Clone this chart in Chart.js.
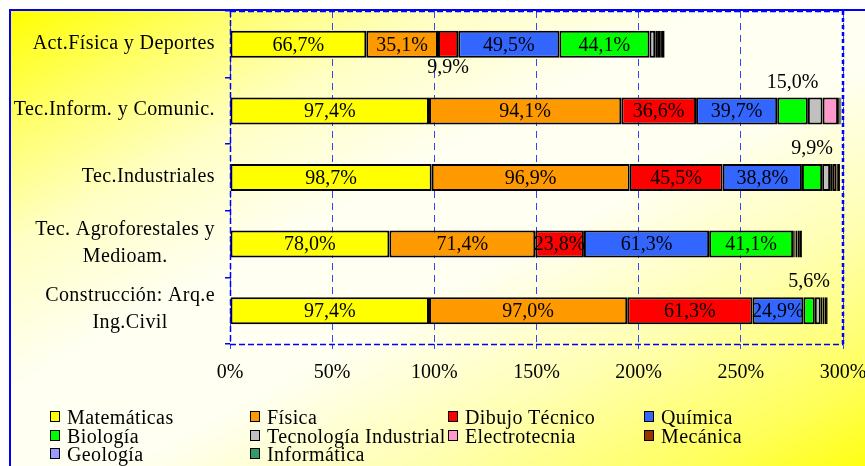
<!DOCTYPE html>
<html>
<head>
<meta charset="utf-8">
<script src="https://cdn.jsdelivr.net/npm/chart.js@4/dist/chart.umd.min.js"></script>
<style>
  body { margin: 0; background: #fff; }
  #wrap { position: relative; width: 865px; height: 466px; overflow: hidden; }
  #bg {
    position: absolute; left: 9px; top: 9px; width: 870px; height: 470px;
    border: 2px solid #0000ff;
    background: linear-gradient(to bottom right, #ffff00 0%, #ffff66 12%, #ffffc4 25%, #fffff2 40%, #fffff2 55%, #ffffb0 72%, #ffff5a 88%, #ffff00 100%);
  }
  #chart { position: absolute; left: 0; top: 0; }
  .leg { position: absolute; font: 20px 'Liberation Serif', serif; line-height: 18px; white-space: nowrap; color: #000; letter-spacing: 0.4px; }
  .leg i { position: absolute; left: 0; top: 3px; width: 8px; height: 9px; border: 1.5px solid #000; }
  .leg span { position: absolute; left: 17px; top: 0; }
</style>
</head>
<body>
<div id="wrap">
  <div id="bg"></div>
  <canvas id="chart" width="865" height="466"></canvas>
</div>
<script>
const categories = [
  'Act.Física y Deportes',
  'Tec.Inform. y Comunic.',
  'Tec.Industriales',
  ['Tec. Agroforestales y', 'Medioam.'],
  ['Construcción: Arq.e', 'Ing.Civil']
];
const subjects = ['Matemáticas', 'Física', 'Dibujo Técnico', 'Química', 'Biología',
  'Tecnología Industrial', 'Electrotecnia', 'Mecánica', 'Geología', 'Informática'];
const colors = ['#ffff00', '#ff9900', '#ff0000', '#3366ff', '#00ff00',
  '#c0c0c0', '#ff99cc', '#993300', '#9999ff', '#339966'];

const matematicas   = [66.7, 97.4, 98.7, 78.0, 97.4];
const fisica        = [35.1, 94.1, 96.9, 71.4, 97.0];
const dibujo        = [9.9, 36.6, 45.5, 23.8, 61.3];
const quimica       = [49.5, 39.7, 38.8, 61.3, 24.9];
const biologia      = [44.1, 15.0, 9.9, 41.1, 5.6];
const tecnologia    = [2.8, 7.2, 3.9, 0.8, 2.9];
const electrotecnia = [0.9, 7.6, 1.0, 0.3, 0.9];
const mecanica      = [1.5, 0.8, 2.2, 1.0, 1.0];
const geologia      = [0.9, 0.3, 0.6, 1.2, 0.7];
const informatica   = [1.3, 0.5, 1.0, 1.0, 0.8];
const xTicks = [0, 50, 100, 150, 200, 250, 300];

const series = [matematicas, fisica, dibujo, quimica, biologia,
  tecnologia, electrotecnia, mecanica, geologia, informatica];

const FONT = "'Liberation Serif', 'Times New Roman', serif";
const BLUE = '#0000ff';

function fmt(v) {
  return v.toFixed(1).replace('.', ',') + '%';
}

// etiquetas de datos, etiquetas de categorías y marco del área de trazado
const extras = {
  id: 'extras',
  afterDatasetsDraw(chart) {
    const ctx = chart.ctx;
    ctx.save();
    ctx.font = '20px ' + FONT;
    ctx.fillStyle = '#000';
    ctx.textAlign = 'center';
    ctx.textBaseline = 'middle';
    for (let d = 0; d < 5; d++) {
      const meta = chart.getDatasetMeta(d);
      meta.data.forEach((el, i) => {
        const v = series[d][i];
        const cx = (el.x + el.base) / 2;
        let cy = el.y + 1;
        if (v < 20) {
          if (d === 4) cy = el.y - el.height / 2 - 15;
          else cy = el.y + el.height / 2 + 10;
        }
        ctx.fillText(fmt(v), cx, cy);
      });
    }
    ctx.restore();
  },
  afterDraw(chart) {
    const ctx = chart.ctx;
    const area = chart.chartArea;
    const y = chart.scales.y;
    ctx.save();
    // etiquetas del eje de categorías: bloque alineado a la derecha, líneas centradas
    ctx.font = '20px ' + FONT;
    ctx.letterSpacing = '0.4px';
    ctx.fillStyle = '#000';
    ctx.textAlign = 'center';
    ctx.textBaseline = 'middle';
    const right = area.left - 15;
    categories.forEach((label, i) => {
      const lines = Array.isArray(label) ? label : [label];
      const w = Math.max(...lines.map(l => ctx.measureText(l).width));
      const cx = right - w / 2;
      const cy = y.getPixelForValue(i);
      const lh = 27;
      lines.forEach((l, k) => {
        ctx.fillText(l, cx, cy + (k - (lines.length - 1) / 2) * lh - 1);
      });
    });
    // marco discontinuo
    ctx.letterSpacing = '0px';
    ctx.strokeStyle = BLUE;
    ctx.lineWidth = 1.5;
    ctx.setLineDash([6, 3]);
    ctx.beginPath();
    ctx.moveTo(area.left, area.top + 0.5);
    ctx.lineTo(area.right, area.top + 0.5);
    ctx.moveTo(area.left + 0.5, area.top);
    ctx.lineTo(area.left + 0.5, area.bottom);
    ctx.moveTo(area.left, area.bottom + 0.5);
    ctx.lineTo(area.right, area.bottom + 0.5);
    ctx.stroke();
    ctx.lineWidth = 2.5;
    ctx.setLineDash([4, 3]);
    ctx.beginPath();
    ctx.moveTo(area.right, area.top);
    ctx.lineTo(area.right, area.bottom);
    ctx.stroke();
    ctx.restore();
  }
};

const ctx = document.getElementById('chart').getContext('2d');
new Chart(ctx, {
  type: 'bar',
  data: {
    labels: categories,
    datasets: subjects.map((name, i) => ({
      label: name,
      data: series[i],
      backgroundColor: colors[i],
      borderColor: '#000',
      borderWidth: 2,
      borderSkipped: false,
      categoryPercentage: 1,
      barPercentage: 0.405
    }))
  },
  options: {
    indexAxis: 'y',
    responsive: false,
    animation: false,
    devicePixelRatio: 1,
    layout: { padding: { top: 11, right: 22, left: 0, bottom: 0 } },
    plugins: {
      legend: { display: false },
      tooltip: { enabled: false }
    },
    scales: {
      x: {
        stacked: true,
        min: 0,
        max: 300,
        afterBuildTicks(scale) {
          scale.ticks = xTicks.map(v => ({ value: v }));
        },
        ticks: {
          color: '#000',
          font: { family: FONT, size: 20 },
          padding: 12,
          maxRotation: 0,
          callback: v => v + '%'
        },
        grid: {
          color: '#3344ff',
          lineWidth: 1,
          tickLength: 5
        },
        border: { display: false, dash: [7, 5] },
        afterFit(scale) {
          scale.height = 122;
          scale.paddingLeft = 0;
          scale.paddingRight = 0;
        }
      },
      y: {
        stacked: true,
        ticks: { display: false },
        grid: {
          drawOnChartArea: false,
          color: BLUE,
          lineWidth: 1.5,
          tickLength: 5
        },
        border: { display: false },
        afterFit(scale) {
          scale.width = 230;
          scale.paddingTop = 0;
          scale.paddingBottom = 0;
        }
      }
    }
  },
  plugins: [extras]
});

// leyenda en cuatro columnas
const legCols = [50, 250, 448, 644];
const legRows = [408, 427, 445];
const wrap = document.getElementById('wrap');
subjects.forEach((name, i) => {
  const div = document.createElement('div');
  div.className = 'leg';
  div.style.left = legCols[i % 4] + 'px';
  div.style.top = legRows[Math.floor(i / 4)] + 'px';
  div.innerHTML = '<i style="background:' + colors[i] + '"></i><span>' + name + '</span>';
  wrap.appendChild(div);
});
</script>
</body>
</html>
